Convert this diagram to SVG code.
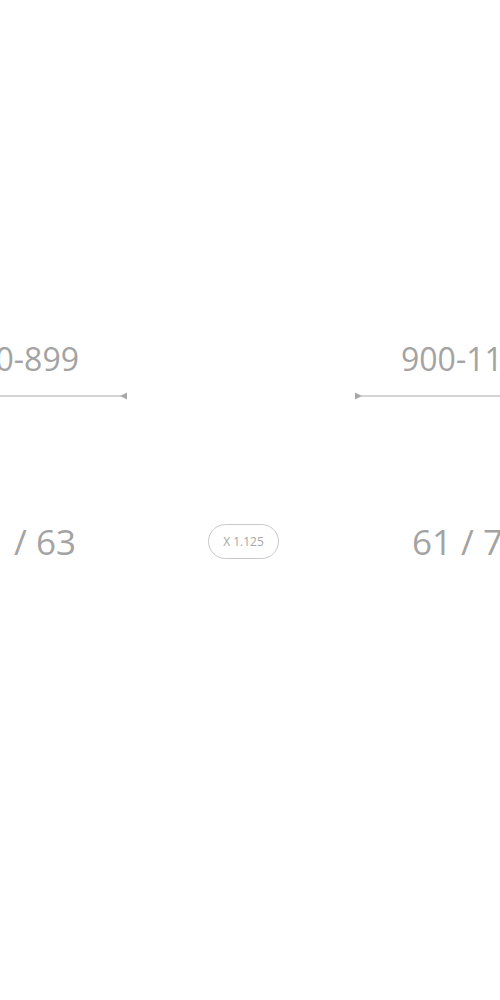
<svg xmlns="http://www.w3.org/2000/svg" width="500" height="1000" viewBox="0 0 500 1000">
<style>
.big{font-family:"Open Sans","Liberation Sans",sans-serif;fill:#a3a3a3;font-size:32px}
.frac{font-family:"Open Sans","Liberation Sans",sans-serif;fill:#a3a3a3;font-size:35px}
.conn{stroke:#a8a8a8;stroke-width:1.2;fill:none}
.head{fill:#a8a8a8}
.pill{fill:none;stroke:#c9c9c9;stroke-width:1}
.pilltxt{font-family:"Open Sans","Liberation Sans",sans-serif;fill:#a6a6a6;font-size:12px}
</style>
<rect width="500" height="1000" fill="#ffffff"/>
<g id="range-left"><text class="big" x="79" y="371" text-anchor="end">0-899</text></g>
<g id="range-right"><text class="big" x="401" y="371">900-1199</text></g>
<g id="connectors">
<line class="conn" x1="0" y1="396" x2="121" y2="396"/>
<polygon class="head" points="120,396 127,392.5 127,399.5"/>
<line class="conn" x1="361" y1="396" x2="500" y2="396"/>
<polygon class="head" points="362,396 355,392.5 355,399.5"/>
</g>
<g id="ratio-left"><text class="frac" x="76" y="555" text-anchor="end">/ 63</text></g>
<g id="multiplier">
<rect class="pill" x="208.5" y="524.5" width="70" height="34" rx="17" ry="17"/>
<text class="pilltxt" x="243.5" y="546" text-anchor="middle">X 1.125</text>
</g>
<g id="ratio-right"><text class="frac" x="412" y="555">61 / 76</text></g>
</svg>
